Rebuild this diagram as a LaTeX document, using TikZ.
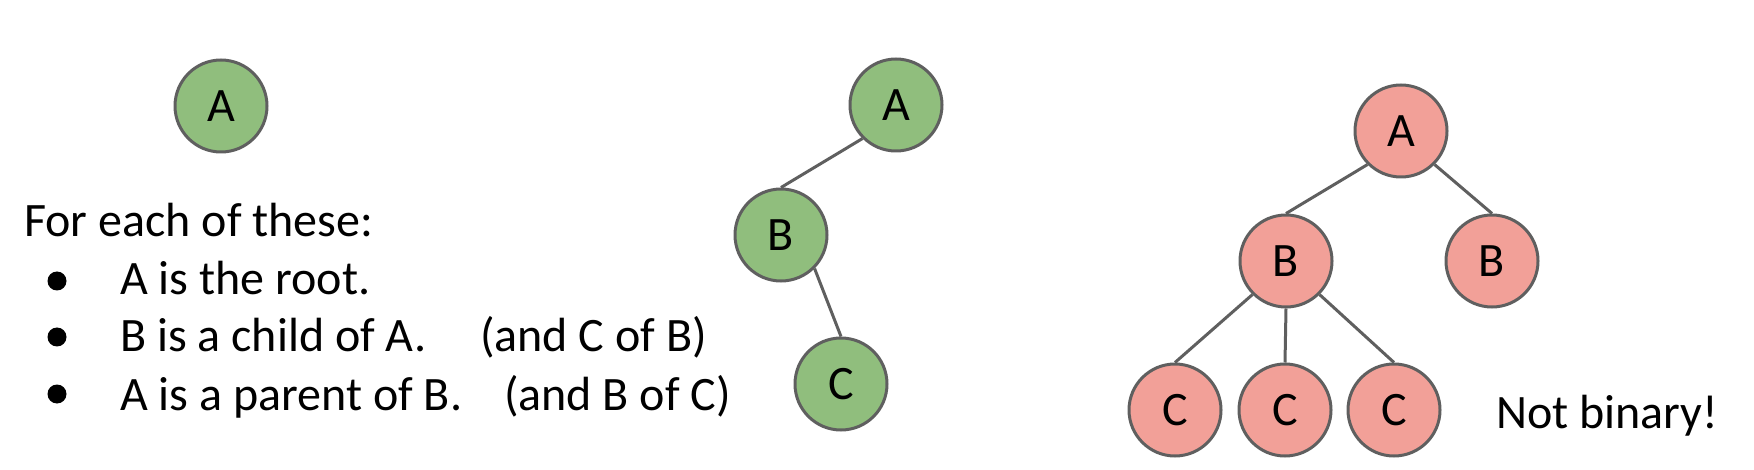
\documentclass[tikz,border=0pt]{standalone}
\usepackage{fontspec}
\setmainfont{Carlito}
\definecolor{nodegreen}{HTML}{90BE7D}
\definecolor{nodered}{HTML}{F2A098}
\definecolor{linegray}{HTML}{5F5F5F}

\begin{document}
\begin{tikzpicture}[x=1pt, y=-1pt,
  tnode/.style={draw=linegray, line width=3pt, circle, minimum size=92pt, inner sep=0pt, font=\fontsize{48}{56}\selectfont},
  gnode/.style={tnode, fill=nodegreen},
  rnode/.style={tnode, fill=nodered},
  link/.style={draw=linegray, line width=3pt},
  txt/.style={anchor=base west, inner sep=0pt, font=\fontsize{48}{56}\selectfont},
  dot/.style={circle, fill=black, minimum size=19pt, inner sep=0pt}]
\useasboundingbox (0,0) rectangle (1754,470);

% single node
\node[gnode] (s) at (221,106) {A};

% text on the left
\node[txt] (h) at (24,237) {For each of these:};
\node[dot] (d1) at (57,281) {};
\node[txt] (t1) at (120,295) {A is the root.};
\node[dot] (d2) at (57,337) {};
\node[txt] (t2) at (120,352) {B is a child of A.};
\node[txt] (u2) at (480,352) {(and C of B)};
\node[dot] (d3) at (57,394) {};
\node[txt] (t3) at (120,410) {A is a parent of B.};
\node[txt] (u3) at (504,410) {(and B of C)};

% green chain
\node[gnode] (a) at (896,105) {A};
\node[gnode] (b) at (781,235) {B};
\node[gnode] (c) at (841,384) {C};
\path[link] (a.south west) -- (b.north);
\path[link] (b.south east) -- (c.north);

% red tree
\node[rnode] (i) at (1401,131) {A};
\node[rnode] (j) at (1286,261) {B};
\node[rnode] (k) at (1492,261) {B};
\path[link] (i.south west) -- (j.north);
\path[link] (i.south east) -- (k.north);
\node[rnode] (p) at (1175,410) {C};
\node[rnode] (q) at (1285,410) {C};
\node[rnode] (r) at (1394,410) {C};
\path[link] (j.south west) -- (p.north);
\path[link] (j.south) -- (q.north);
\path[link] (j.south east) -- (r.north);

\node[txt] (nb) at (1496,428) {Not binary!};
\end{tikzpicture}
\end{document}
